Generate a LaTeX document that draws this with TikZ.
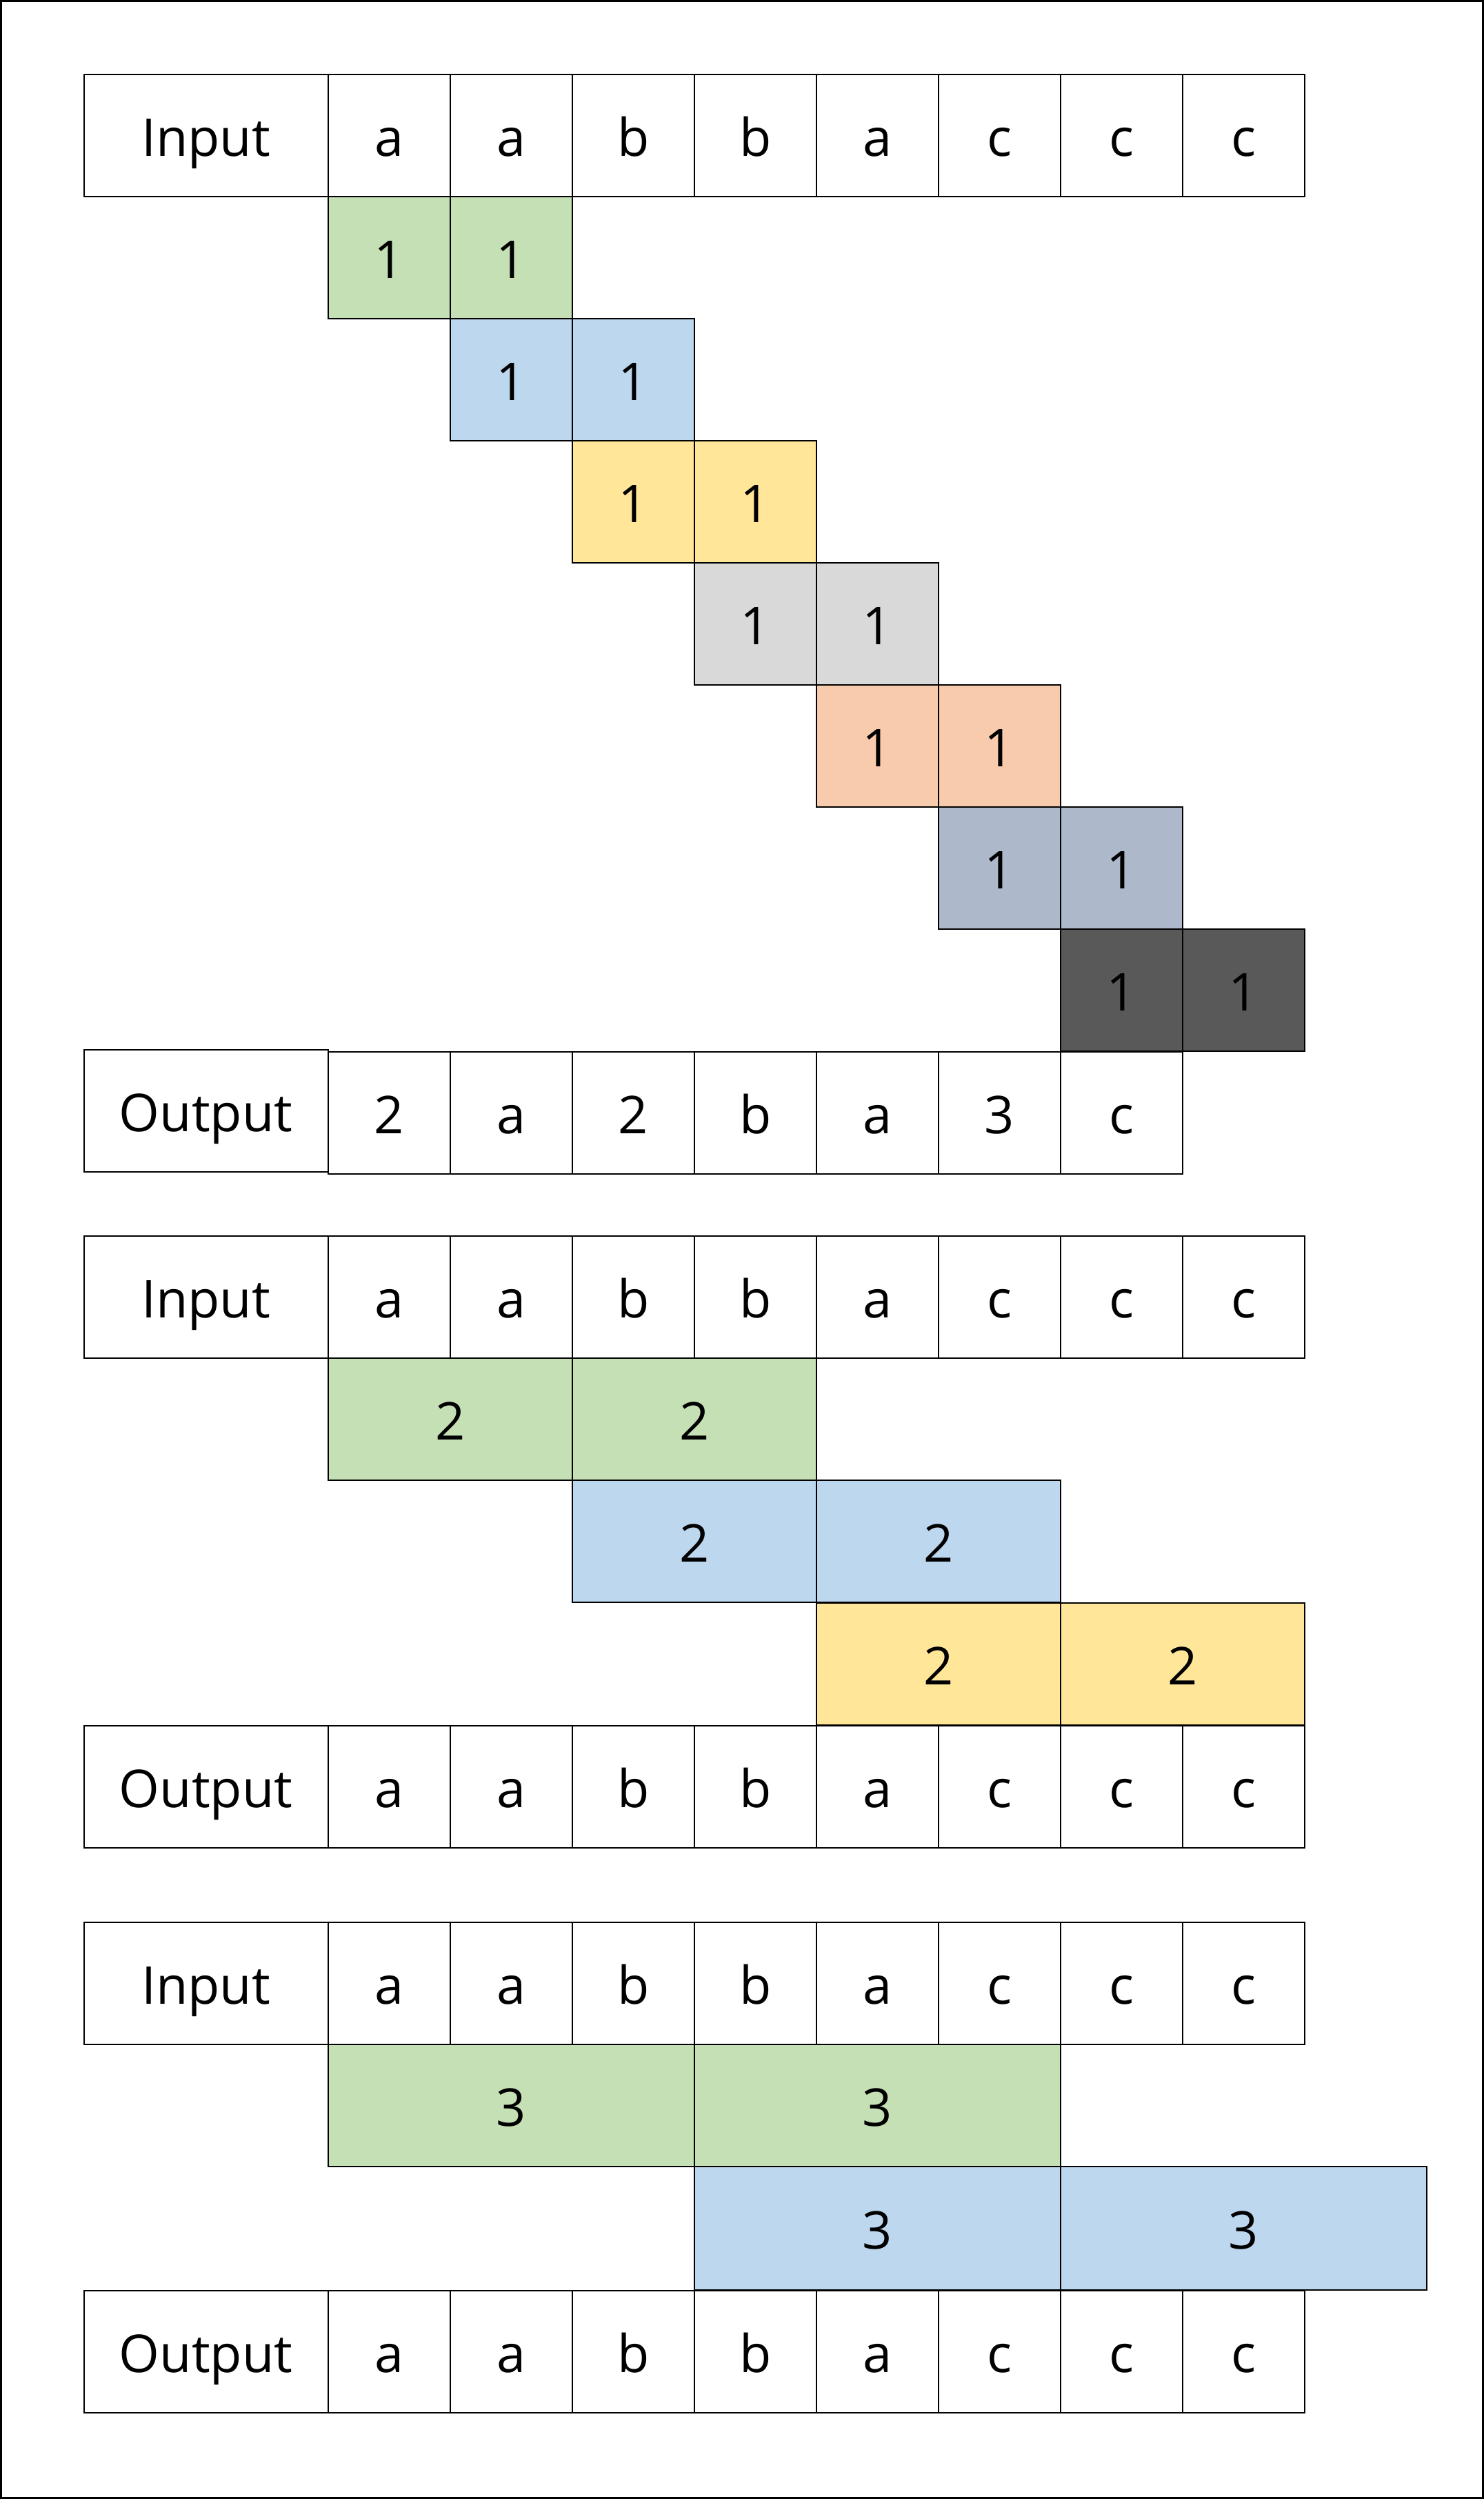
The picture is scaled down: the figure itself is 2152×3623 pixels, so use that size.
\documentclass[tikz,border=0pt]{standalone}
\usepackage{fontspec}
\setmainfont{Open Sans}
\definecolor{cgreen}{HTML}{C5E0B4}
\definecolor{cblue}{HTML}{BDD7EE}
\definecolor{cyellow}{HTML}{FFE699}
\definecolor{cgray}{HTML}{D9D9D9}
\definecolor{corange}{HTML}{F8CBAD}
\definecolor{cslate}{HTML}{ADB9CA}
\definecolor{cdark}{HTML}{595959}
\tikzset{
  box/.style={draw=black, line width=0.5pt, inner sep=0pt, anchor=north west,
    font=\fontsize{18.9}{23}\selectfont, text height=15pt, text depth=0pt,
    minimum height=44.25pt},
  lab/.style={box, minimum width=88.5pt},
  cell/.style={box, minimum width=44.25pt},
  dbl/.style={box, minimum width=88.5pt},
  tri/.style={box, minimum width=132.75pt},
}
\begin{document}
\begin{tikzpicture}[x=0.25pt,y=-0.25pt]
\useasboundingbox (0,0) rectangle (2152,3623);
\draw[line width=0.75pt] (1.5,1.5) rectangle (2150.5,3621.5);

% ---------- Section 1 ----------
\node[lab] (s1in) at (120.5,106.5) {Input};
\foreach \c [count=\i from 0] in {a,a,b,b,a,c,c,c}
  \node[cell] (s1in\i) at (475+177*\i,106.5) {\c};
\foreach \col [count=\k] in {cgreen,cblue,cyellow,cgray,corange,cslate,cdark} {
  \node[cell,fill=\col] (s1r\k-a) at (475+177*\k-177,106.5+177*\k) {1};
  \node[cell,fill=\col] (s1r\k-b) at (475+177*\k,106.5+177*\k) {1};
}
\node[lab] (s1out) at (120.5,1521) {Output};
\foreach \c [count=\i from 0] in {2,a,2,b,a,3,c}
  \node[cell] (s1out\i) at (475+177*\i,1523.5) {\c};

% ---------- Section 2 ----------
\node[lab] (s2in) at (120.5,1791) {Input};
\foreach \c [count=\i from 0] in {a,a,b,b,a,c,c,c}
  \node[cell] (s2in\i) at (475+177*\i,1791) {\c};
\node[dbl,fill=cgreen] (s2g1) at (475,1968) {2};
\node[dbl,fill=cgreen] (s2g2) at (829,1968) {2};
\node[dbl,fill=cblue] (s2b1) at (829,2145) {2};
\node[dbl,fill=cblue] (s2b2) at (1183,2145) {2};
\node[dbl,fill=cyellow] (s2y1) at (1183,2322.5) {2};
\node[dbl,fill=cyellow] (s2y2) at (1537,2322.5) {2};
\node[lab] (s2out) at (120.5,2501) {Output};
\foreach \c [count=\i from 0] in {a,a,b,b,a,c,c,c}
  \node[cell] (s2out\i) at (475+177*\i,2501) {\c};

% ---------- Section 3 ----------
\node[lab] (s3in) at (120.5,2785.5) {Input};
\foreach \c [count=\i from 0] in {a,a,b,b,a,c,c,c}
  \node[cell] (s3in\i) at (475+177*\i,2785.5) {\c};
\node[tri,fill=cgreen] (s3g1) at (475,2962.5) {3};
\node[tri,fill=cgreen] (s3g2) at (1006,2962.5) {3};
\node[tri,fill=cblue,minimum height=44.75pt] (s3b1) at (1006,3140) {3};
\node[tri,fill=cblue,minimum height=44.75pt] (s3b2) at (1537,3140) {3};
\node[lab] (s3out) at (120.5,3320) {Output};
\foreach \c [count=\i from 0] in {a,a,b,b,a,c,c,c}
  \node[cell] (s3out\i) at (475+177*\i,3320) {\c};
\end{tikzpicture}
\end{document}
